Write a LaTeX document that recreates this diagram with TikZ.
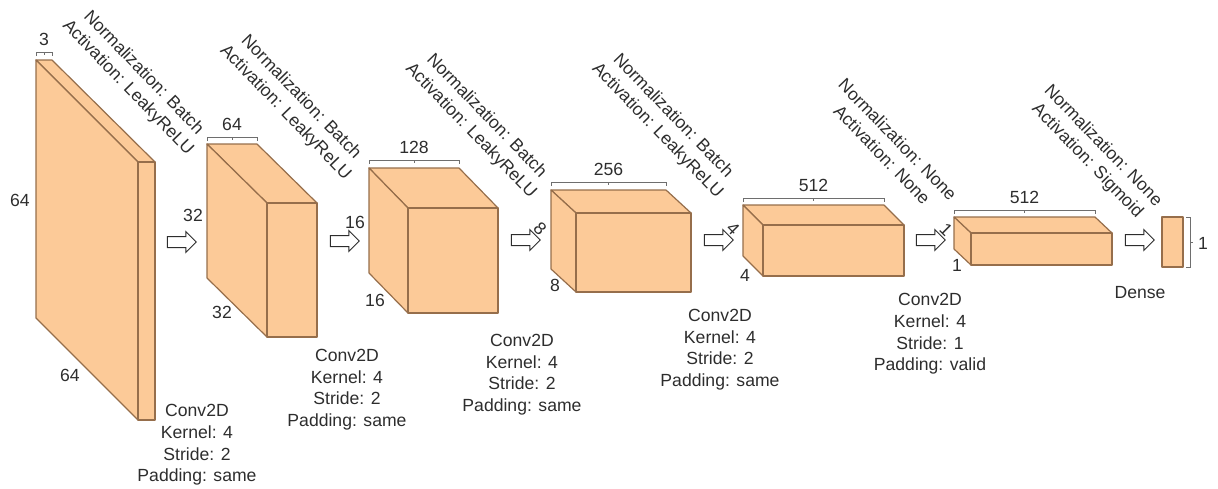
\documentclass[tikz,border=0pt]{standalone}
\usepackage{fontspec}
\setmainfont{Liberation Sans}
\usetikzlibrary{shapes.arrows}

\definecolor{boxfill}{RGB}{252,202,152}
\definecolor{boxedge}{RGB}{150,110,75}
\definecolor{txtgray}{RGB}{45,45,45}
\definecolor{dimgray}{RGB}{110,110,110}

\tikzset{
  face/.style={draw=boxedge, fill=boxfill, line width=0.6pt, line join=round},
  dimline/.style={draw=dimgray, line width=0.5pt},
  layerinfo/.style={align=center, inner sep=0pt, text=txtgray},
  actinfo/.style={align=center, inner sep=0pt, rotate=-46, text=txtgray},
  sizelbl/.style={inner sep=0pt, text=txtgray},
  flowarrow/.style={single arrow, draw=txtgray, fill=white, line width=0.5pt,
    minimum height=14.5pt, minimum width=10pt, inner sep=2.5pt,
    single arrow head extend=2.5pt}
}

\begin{document}
\begin{tikzpicture}[x=0.5pt,y=-0.5pt,font=\fontsize{8.8}{10.8}\selectfont]

            \useasboundingbox (0,0) rectangle (1218,488);

            % block 1 (64x64x3)
            \draw[face] (138,162) -- (36,60) -- (52,60) -- (155,162) -- cycle;
            \draw[face] (36,60) -- (138,162) -- (138,420) -- (36,318) -- cycle;
            \draw[face] (138,162) rectangle (155,420);

            % block 2 (32x32x64)
            \draw[face] (267,203) -- (207,144) -- (257,144) -- (317,203) -- cycle;
            \draw[face] (207,144) -- (267,203) -- (267,337) -- (207,278) -- cycle;
            \draw[face] (267,203) rectangle (317,337);

            % block 3 (16x16x128)
            \draw[face] (408,208) -- (369,168) -- (459,168) -- (498,208) -- cycle;
            \draw[face] (369,168) -- (408,208) -- (408,313) -- (369,273) -- cycle;
            \draw[face] (408,208) rectangle (498,313);

            % block 4 (8x8x256)
            \draw[face] (576,213) -- (551,190) -- (666,190) -- (691,213) -- cycle;
            \draw[face] (551,190) -- (576,213) -- (576,292) -- (551,269) -- cycle;
            \draw[face] (576,213) rectangle (691,292);

            % block 5 (4x4x512)
            \draw[face] (763,225) -- (743,205) -- (884,205) -- (904,225) -- cycle;
            \draw[face] (743,205) -- (763,225) -- (763,276) -- (743,256) -- cycle;
            \draw[face] (763,225) rectangle (904,276);

            % block 6 (1x1x512)
            \draw[face] (971,233) -- (954,217) -- (1095,217) -- (1112,233) -- cycle;
            \draw[face] (954,217) -- (971,233) -- (971,265) -- (954,249) -- cycle;
            \draw[face] (971,233) rectangle (1112,265);

            % dense output
            \draw[face] (1162,217) rectangle (1183,267);

            % width brackets
            \foreach \i/\xa/\xb/\yy/\val in {1/36/52/52/3, 2/207/257/137/64,
                3/369/459/160/128, 4/551/666/182/256, 5/743/884/198/512,
                6/954/1095/210/512} {
              \draw[dimline] (\xa,\yy+4) -- (\xa,\yy) -- (\xb,\yy) -- (\xb,\yy+4);
              \draw[dimline] ({(\xa+\xb)/2},\yy) -- ++(0,3);
              \node[sizelbl, anchor=south] (w\i) at ({(\xa+\xb)/2},\yy-6) {\val};
            }
            \draw[dimline] (1186,217) -- (1190,217) -- (1190,267) -- (1186,267);
            \draw[dimline] (1190,242) -- ++(3,0);
            \node[sizelbl] (w7) at (1203,243) {1};

            % height and depth labels
            \node[sizelbl] (h1) at (20,200) {64};
            \node[sizelbl] (d1) at (70,375) {64};
            \node[sizelbl] (h2) at (193,215) {32};
            \node[sizelbl] (d2) at (222,312) {32};
            \node[sizelbl] (h3) at (355,222) {16};
            \node[sizelbl] (d3) at (375,300) {16};
            \node[sizelbl, rotate=-45] (h4) at (540,229) {8};
            \node[sizelbl] (d4) at (555,285) {8};
            \node[sizelbl, rotate=-45] (h5) at (733,229) {4};
            \node[sizelbl] (d5) at (745,275) {4};
            \node[sizelbl, rotate=-45] (h6) at (946,230) {1};
            \node[sizelbl] (d6) at (957,265) {1};

            % flow arrows
            \node[flowarrow] (arr1) at (179,242) {};
            \node[flowarrow] (arr2) at (342,241) {};
            \node[flowarrow] (arr3) at (523,240) {};
            \node[flowarrow] (arr4) at (716,240) {};
            \node[flowarrow] (arr5) at (928,240) {};
            \node[flowarrow] (arr6) at (1137,240) {};

            % normalization / activation
            \node[actinfo] (act1) at (135.5,80.5) {Normalization: Batch\\Activation: LeakyReLU};
            \node[actinfo] (act2) at (293,105) {Normalization: Batch\\Activation: LeakyReLU};
            \node[actinfo] (act3) at (478.5,123.5) {Normalization: Batch\\Activation: LeakyReLU};
            \node[actinfo] (act4) at (665,123.5) {Normalization: Batch\\Activation: LeakyReLU};
            \node[actinfo] (act5) at (890,147) {Normalization: None\\Activation: None};
            \node[actinfo] (act6) at (1095,153.5) {Normalization: None\\Activation: Sigmoid};

            % layer settings
            \node[layerinfo] (conv1) at (197,445) {Conv2D\\Kernel: 4\\Stride: 2\\Padding: same};
            \node[layerinfo] (conv2) at (347,389.5) {Conv2D\\Kernel: 4\\Stride: 2\\Padding: same};
            \node[layerinfo] (conv3) at (522,374.5) {Conv2D\\Kernel: 4\\Stride: 2\\Padding: same};
            \node[layerinfo] (conv4) at (720,349.5) {Conv2D\\Kernel: 4\\Stride: 2\\Padding: same};
            \node[layerinfo] (conv5) at (930,334) {Conv2D\\Kernel: 4\\Stride: 1\\Padding: valid};
            \node[layerinfo] (dense) at (1140,293) {Dense};

        \end{tikzpicture}
\end{document}
